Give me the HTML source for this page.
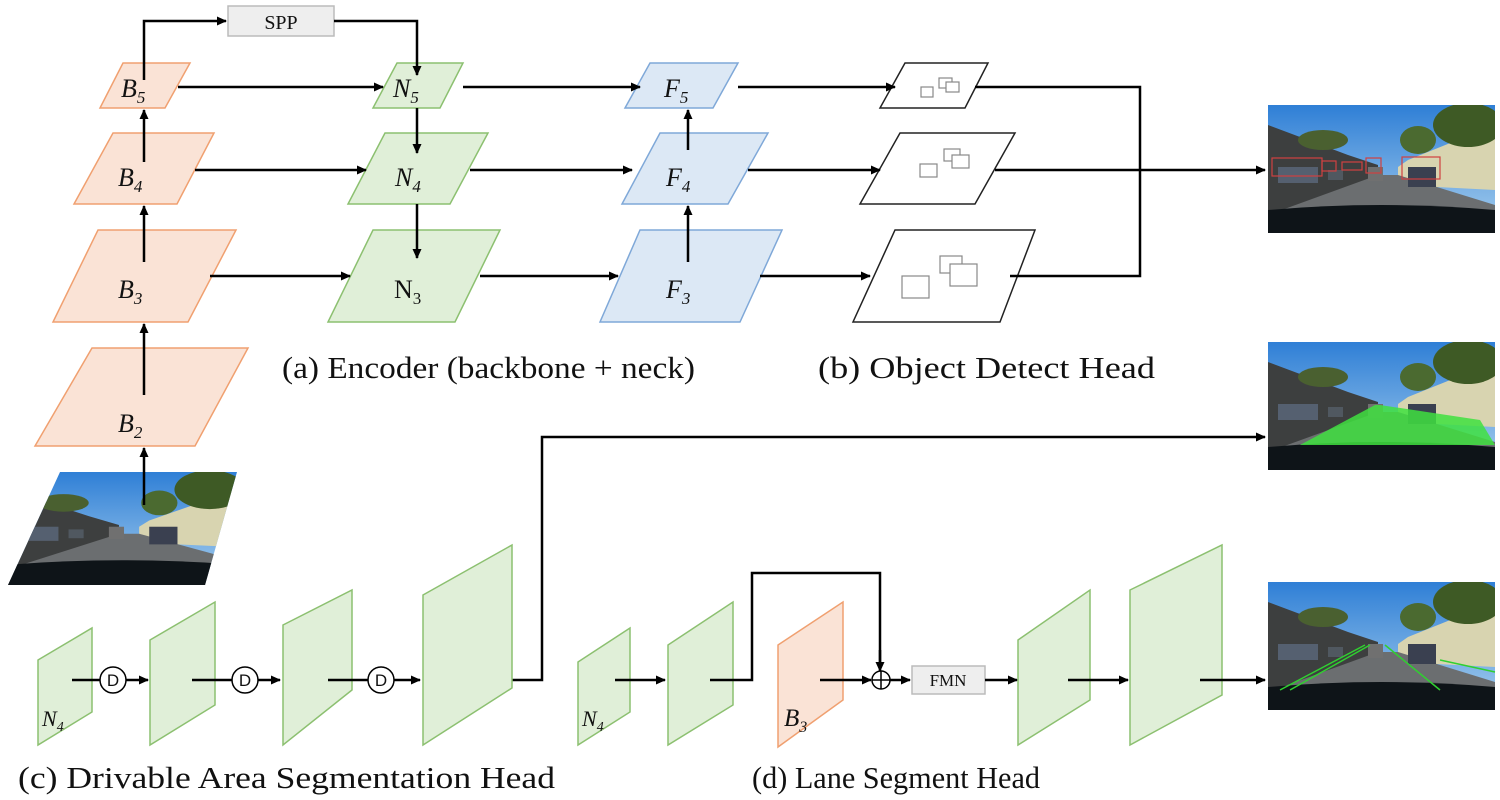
<!DOCTYPE html>
<html><head><meta charset="utf-8"><style>
html,body{margin:0;padding:0;background:#fff;width:1500px;height:800px;overflow:hidden}
svg{display:block}
text{font-family:"Liberation Serif",serif;fill:#111}
</style></head><body>
<svg width="1500" height="800" viewBox="0 0 1500 800" xmlns="http://www.w3.org/2000/svg">
<defs>
<marker id="ah" markerWidth="10" markerHeight="10" refX="9" refY="5" orient="auto" markerUnits="userSpaceOnUse">
<path d="M0,0.5 L10,5 L0,9.5 z" fill="#000"/></marker>
<linearGradient id="sky" x1="0" y1="0" x2="0" y2="1"><stop offset="0" stop-color="#2f7fd6"/><stop offset="1" stop-color="#a9d0ee"/></linearGradient>
<symbol id="photo" viewBox="0 0 227 128" preserveAspectRatio="none">
<rect width="227" height="128" fill="url(#sky)"/>
<path d="M0,20 L80,50 L110,60 L110,75 L0,110 z" fill="#3d3f3f"/>
<path d="M227,20 L140,55 L130,62 L130,80 L227,85 z" fill="#d8d4b0"/>
<ellipse cx="200" cy="20" rx="35" ry="22" fill="#3e5a25"/>
<ellipse cx="150" cy="35" rx="18" ry="14" fill="#4b6a30"/>
<ellipse cx="55" cy="35" rx="25" ry="10" fill="#4a6030"/>
<path d="M0,110 L110,70 L130,70 L227,100 L227,128 L0,128 z" fill="#6b6e70"/>
<path d="M0,105 Q113,95 227,105 L227,128 L0,128 z" fill="#0e1418"/>
<rect x="10" y="62" width="40" height="16" fill="#556070"/>
<rect x="60" y="65" width="15" height="10" fill="#505860"/>
<rect x="100" y="62" width="15" height="14" fill="#707070"/>
<rect x="140" y="62" width="28" height="20" fill="#3a4050"/>
</symbol>
</defs>
<!-- backbone -->
<g fill="#fae3d6" stroke="#f0a070" stroke-width="1.5">
<polygon points="123,63 190,63 165,108 100,108"/>
<polygon points="113,133 214,133 177,204 74,204"/>
<polygon points="98,230 236,230 188,322 53,322"/>
<polygon points="92,348 248,348 195,446 35,446"/>
</g>
<svg x="0" y="0" width="1500" height="800">
<clipPath id="cp"><polygon points="60,472 237,472 205,585 8,585"/></clipPath>
<g clip-path="url(#cp)"><use href="#photo" x="8" y="472" width="229" height="113"/></g>
</svg>
<g fill="#e0efd8" stroke="#8cc070" stroke-width="1.5">
<polygon points="397,63 463,63 440,108 373,108"/>
<polygon points="385,133 488,133 450,204 348,204"/>
<polygon points="373,230 500,230 455,322 328,322"/>
</g>
<g fill="#dce8f5" stroke="#7fa8d8" stroke-width="1.5">
<polygon points="650,63 738,63 713,108 625,108"/>
<polygon points="660,133 768,133 728,204 622,204"/>
<polygon points="640,230 782,230 740,322 600,322"/>
</g>
<g fill="#fff" stroke="#222" stroke-width="1.5">
<polygon points="905,63 988,63 965,108 880,108"/>
<polygon points="900,133 1015,133 975,204 860,204"/>
<polygon points="895,230 1035,230 1000,322 853,322"/>
</g>
<g fill="#fff" stroke="#888" stroke-width="1.2">
<rect x="921" y="87" width="12" height="10"/><rect x="939" y="78" width="13" height="10"/><rect x="946" y="82" width="13" height="10"/>
<rect x="920" y="164" width="17" height="13"/><rect x="944" y="149" width="16" height="12"/><rect x="952" y="155" width="17" height="13"/>
<rect x="902" y="276" width="27" height="22"/><rect x="940" y="256" width="22" height="17"/><rect x="950" y="264" width="27" height="22"/>
</g>
<rect x="228" y="6" width="106" height="30" fill="#eeeeee" stroke="#bbb" stroke-width="1.5"/>
<text x="281" y="29" font-size="20" text-anchor="middle">SPP</text>
<g fill="none" stroke="#000" stroke-width="2.5" marker-end="url(#ah)">
<polyline points="144,80 144,21 226,21"/>
<polyline points="334,21 417,21 417,75"/>
<line x1="178" y1="87" x2="383" y2="87"/>
<line x1="195" y1="170" x2="366" y2="170"/>
<line x1="210" y1="276" x2="350" y2="276"/>
<line x1="144" y1="505" x2="144" y2="448"/>
<line x1="144" y1="395" x2="144" y2="324"/>
<line x1="144" y1="262" x2="144" y2="206"/>
<line x1="144" y1="162" x2="144" y2="110"/>
<line x1="417" y1="108" x2="417" y2="153"/>
<line x1="417" y1="204" x2="417" y2="258"/>
<line x1="463" y1="87" x2="640" y2="87"/>
<line x1="470" y1="170" x2="632" y2="170"/>
<line x1="480" y1="276" x2="618" y2="276"/>
<line x1="688" y1="262" x2="688" y2="206"/>
<line x1="688" y1="150" x2="688" y2="110"/>
<line x1="738" y1="87" x2="895" y2="87"/>
<line x1="748" y1="170" x2="880" y2="170"/>
<line x1="760" y1="276" x2="870" y2="276"/>
<line x1="995" y1="170" x2="1265" y2="170"/>
<polyline points="488,680 542,680 542,437 1265,437"/>
</g>
<g fill="none" stroke="#000" stroke-width="2.5">
<polyline points="975,87 1140,87 1140,276 1010,276"/>
</g>
<g font-size="26" font-style="italic">
<text x="121" y="97">B<tspan font-size="17" dy="6">5</tspan></text>
<text x="118" y="186">B<tspan font-size="17" dy="6">4</tspan></text>
<text x="118" y="298">B<tspan font-size="17" dy="6">3</tspan></text>
<text x="118" y="432">B<tspan font-size="17" dy="6">2</tspan></text>
<text x="393" y="97">N<tspan font-size="17" dy="6">5</tspan></text>
<text x="395" y="186">N<tspan font-size="17" dy="6">4</tspan></text>
<text x="394" y="298" font-style="normal">N<tspan font-size="17" dy="6">3</tspan></text>
<text x="664" y="97">F<tspan font-size="17" dy="6">5</tspan></text>
<text x="666" y="186">F<tspan font-size="17" dy="6">4</tspan></text>
<text x="666" y="298">F<tspan font-size="17" dy="6">3</tspan></text>
</g>
<text x="282" y="378" font-size="31" textLength="413" lengthAdjust="spacingAndGlyphs">(a) Encoder (backbone + neck)</text>
<text x="818" y="378" font-size="31" textLength="337" lengthAdjust="spacingAndGlyphs">(b) Object Detect Head</text>
<use href="#photo" x="1268" y="105" width="227" height="128"/>
<g fill="none" stroke="#d04040" stroke-width="1.2">
<rect x="1272" y="158" width="50" height="18"/><rect x="1322" y="161" width="14" height="10"/><rect x="1342" y="162" width="20" height="8"/><rect x="1366" y="158" width="15" height="15"/><rect x="1402" y="157" width="38" height="22"/>
</g>
<use href="#photo" x="1268" y="342" width="227" height="128"/>
<path d="M1300,445 L1375,405 L1380,405 L1480,420 L1495,445 z" fill="#3fe03f" opacity="0.85"/>
<use href="#photo" x="1268" y="582" width="227" height="128"/>
<g stroke="#30d030" stroke-width="1.5"><line x1="1280" y1="690" x2="1365" y2="645"/><line x1="1290" y1="690" x2="1370" y2="645"/><line x1="1385" y1="645" x2="1440" y2="690"/><line x1="1440" y1="660" x2="1495" y2="672"/></g>
<g fill="#e0efd8" stroke="#8cc070" stroke-width="1.5">
<polygon points="38,660 92,628 92,712 38,745"/>
<polygon points="150,640 215,602 215,705 150,745"/>
<polygon points="283,625 352,590 352,690 283,745"/>
<polygon points="423,595 512,545 512,688 423,745"/>
<polygon points="578,662 630,628 630,712 578,745"/>
<polygon points="668,645 733,602 733,705 668,745"/>
<polygon points="1018,640 1090,590 1090,700 1018,745"/>
<polygon points="1130,590 1222,545 1222,695 1130,745"/>
</g>
<polygon points="778,645 843,602 843,700 778,747" fill="#fae3d6" stroke="#f0a070" stroke-width="1.5"/>
<g fill="#fff" stroke="#000" stroke-width="1.5">
<circle cx="113" cy="680" r="13"/><circle cx="245" cy="680" r="13"/><circle cx="381" cy="680" r="13"/>
<circle cx="881" cy="680" r="9"/>
</g>
<g font-size="17" text-anchor="middle">
<text x="113" y="686" style="font-family:'Liberation Sans',sans-serif">D</text>
<text x="245" y="686" style="font-family:'Liberation Sans',sans-serif">D</text>
<text x="381" y="686" style="font-family:'Liberation Sans',sans-serif">D</text>
</g>
<g stroke="#000" stroke-width="1.5"><line x1="872" y1="680" x2="890" y2="680"/><line x1="881" y1="671" x2="881" y2="689"/></g>
<rect x="912" y="666" width="73" height="28" fill="#eeeeee" stroke="#bbb" stroke-width="1.5"/>
<text x="948" y="686" font-size="17" text-anchor="middle">FMN</text>
<g fill="none" stroke="#000" stroke-width="2.5">
<line x1="72" y1="680" x2="100" y2="680"/>
<line x1="192" y1="680" x2="232" y2="680"/>
<line x1="328" y1="680" x2="368" y2="680"/>
<polyline points="710,680 752,680 752,573 880,573 880,668"/>
</g>
<g fill="none" stroke="#000" stroke-width="2.5" marker-end="url(#ah)">
<line x1="126" y1="680" x2="148" y2="680"/>
<line x1="258" y1="680" x2="280" y2="680"/>
<line x1="394" y1="680" x2="420" y2="680"/>
<line x1="615" y1="680" x2="665" y2="680"/>
<line x1="880" y1="650" x2="880" y2="671"/>
<line x1="820" y1="680" x2="871" y2="680"/>
<line x1="890" y1="680" x2="910" y2="680"/>
<line x1="985" y1="680" x2="1017" y2="680"/>
<line x1="1068" y1="680" x2="1128" y2="680"/>
<line x1="1200" y1="680" x2="1265" y2="680"/>
</g>
<g font-size="22" font-style="italic">
<text x="42" y="726">N<tspan font-size="14" dy="5">4</tspan></text>
<text x="582" y="726">N<tspan font-size="14" dy="5">4</tspan></text>
<text x="784" y="726" font-size="25">B<tspan font-size="16" dy="6">3</tspan></text>
</g>
<text x="18" y="788" font-size="31" textLength="537" lengthAdjust="spacingAndGlyphs">(c) Drivable Area Segmentation Head</text>
<text x="752" y="788" font-size="31" textLength="288" lengthAdjust="spacingAndGlyphs">(d) Lane Segment Head</text>
</svg>
</body></html>
